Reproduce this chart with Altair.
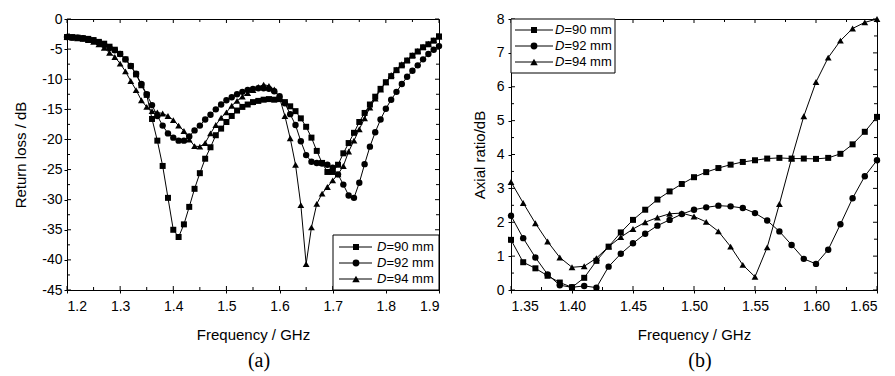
import altair as alt
import pandas as pd

# ---------------- data ----------------
series_labels = ["D=90 mm", "D=92 mm", "D=94 mm"]
series_shapes = ["square", "circle", "triangle-up"]
series_sizes = [36, 46, 56]

freq_a = [round(1.20 + 0.01 * i, 2) for i in range(71)]
rl_90 = [-3.0, -3.0, -3.1, -3.2, -3.3, -3.5, -3.8, -4.1, -4.6, -5.1,
         -5.8, -6.7, -7.8, -9.2, -11.0, -12.6, -16.6, -20.2, -24.4, -29.7,
         -35.0, -36.2, -34.1, -31.2, -28.2, -25.6, -23.2, -21.3, -19.3, -18.2,
         -17.1, -16.1, -15.2, -14.6, -14.2, -13.8, -13.6, -13.4, -13.3, -13.4,
         -13.3, -13.8, -14.5, -15.3, -16.5, -17.9, -19.7, -21.9, -23.9, -25.4,
         -25.4, -24.2, -22.3, -20.6, -18.9, -17.1, -15.6, -14.2, -12.9, -11.6,
         -10.5, -9.5, -8.5, -7.7, -6.9, -6.1, -5.4, -4.7, -4.2, -3.6, -2.9]
rl_92 = [-3.0, -3.1, -3.1, -3.2, -3.4, -3.6, -3.9, -4.3, -4.8, -5.2,
         -5.8, -6.7, -7.8, -9.1, -10.8, -12.5, -14.3, -16.1, -17.7, -19.0,
         -19.7, -20.2, -20.2, -19.5, -18.5, -17.7, -16.7, -15.9, -15.0, -14.2,
         -13.5, -13.0, -12.5, -12.1, -11.8, -11.6, -11.5, -11.5, -11.6, -12.0,
         -12.8, -14.0, -15.8, -17.6, -20.3, -22.6, -23.7, -23.9, -24.0, -24.2,
         -24.7, -25.8, -27.5, -29.3, -29.7, -27.2, -24.1, -21.2, -18.8, -16.7,
         -14.9, -13.4, -12.1, -10.8, -9.6, -8.6, -7.7, -6.7, -5.8, -5.1, -4.5]
rl_94 = [-3.0, -3.1, -3.2, -3.3, -3.5, -3.8, -4.2, -4.8, -5.6, -6.3,
         -7.4, -8.7, -10.3, -11.8, -13.5, -14.6, -15.3, -15.5, -15.7, -16.1,
         -16.8, -17.7, -18.6, -20.0, -21.1, -21.2, -20.6, -19.0, -17.6, -16.4,
         -15.5, -14.4, -13.6, -12.9, -12.3, -11.8, -11.3, -10.9, -11.1, -11.7,
         -13.1, -16.1, -19.8, -24.2, -30.9, -40.7, -34.6, -30.7, -29.0, -27.9,
         -26.8, -25.8, -24.4, -22.0, -20.2, -18.3, -16.5, -14.7, -13.2, -11.7,
         -10.5, -9.3, -8.4, -7.5, -6.8, -6.0, -5.3, -4.6, -4.1, -3.5, -2.9]

freq_b = [round(1.35 + 0.01 * i, 2) for i in range(31)]
ar_90 = [1.48, 0.82, 0.64, 0.42, 0.22, 0.08, 0.36, 0.86, 1.28, 1.70,
         2.07, 2.37, 2.67, 2.91, 3.13, 3.33, 3.48, 3.60, 3.70, 3.78,
         3.83, 3.88, 3.90, 3.88, 3.88, 3.87, 3.90, 4.02, 4.30, 4.67, 5.11]
ar_92 = [2.19, 1.53, 0.96, 0.46, 0.14, 0.08, 0.12, 0.07, 0.69, 1.07,
         1.38, 1.66, 1.90, 2.07, 2.24, 2.37, 2.44, 2.49, 2.47, 2.42,
         2.27, 2.05, 1.73, 1.33, 0.92, 0.77, 1.19, 1.94, 2.71, 3.36, 3.83]
ar_94 = [3.19, 2.57, 1.97, 1.43, 0.96, 0.67, 0.70, 0.94, 1.28, 1.56,
         1.80, 2.00, 2.14, 2.25, 2.27, 2.17, 2.01, 1.73, 1.28, 0.74,
         0.39, 1.26, 2.54, 3.88, 5.13, 6.14, 6.86, 7.36, 7.72, 7.90, 8.0]

xa_major = [1.2, 1.3, 1.4, 1.5, 1.6, 1.7, 1.8, 1.9]
xa_minor = [1.25, 1.35, 1.45, 1.55, 1.65, 1.75, 1.85]
ya_major = [-45, -40, -35, -30, -25, -20, -15, -10, -5, 0]
ya_minor = [-42.5, -37.5, -32.5, -27.5, -22.5, -17.5, -12.5, -7.5, -2.5]
xb_major = [1.35, 1.40, 1.45, 1.50, 1.55, 1.60, 1.65]
xb_minor = [1.375, 1.425, 1.475, 1.525, 1.575, 1.625]
yb_major = [0, 1, 2, 3, 4, 5, 6, 7, 8]
yb_minor = [0.5, 1.5, 2.5, 3.5, 4.5, 5.5, 6.5, 7.5]

FONT = "Liberation Sans"


def long_df(freq, series):
    rows = []
    for lab, vals in zip(series_labels, series):
        for f, v in zip(freq, vals):
            rows.append({"f": f, "v": v, "s": lab})
    return pd.DataFrame(rows)


def panel(df, W, H, xdom, ydom, xmaj, xmin, ymaj, ymin, xfmt, xtitle, ytitle,
          ytitle_pad, ylabel_pad, caption, leg):
    xs = alt.Scale(domain=xdom, nice=False, zero=False)
    ys = alt.Scale(domain=ydom, nice=False, zero=False)
    xaxis = alt.Axis(values=xmaj, format=xfmt, title=xtitle, titlePadding=14,
                     labelPadding=6)
    yaxis = alt.Axis(values=ymaj, labelExpr="'' + datum.value", title=ytitle,
                     titlePadding=ytitle_pad, labelPadding=ylabel_pad)
    X = lambda: alt.X("f:Q", scale=xs, axis=xaxis)
    Y = lambda: alt.Y("v:Q", scale=ys, axis=yaxis)
    base = alt.Chart(df)
    line = base.mark_line(color="black", strokeWidth=1).encode(
        x=X(), y=Y(), detail="s:N",
    )
    pts = base.mark_point(filled=True, color="black", opacity=1).encode(
        x=X(), y=Y(),
        shape=alt.Shape("s:N", scale=alt.Scale(domain=series_labels, range=series_shapes), legend=None),
        size=alt.Size("s:N", scale=alt.Scale(domain=series_labels, range=series_sizes), legend=None),
    )
    layers = [line, pts]
    # inward ticks on all four sides
    for vals, L in ((xmaj, 4), (xmin, 3)):
        d = pd.DataFrame({"f": vals})
        layers.append(alt.Chart(d).mark_rule(color="black", strokeWidth=1).encode(
            x=X(), y=alt.value(H), y2=alt.value(H - L)))
        layers.append(alt.Chart(d).mark_rule(color="black", strokeWidth=1).encode(
            x=X(), y=alt.value(0), y2=alt.value(L)))
    for vals, L in ((ymaj, 4), (ymin, 3)):
        d = pd.DataFrame({"v": vals})
        layers.append(alt.Chart(d).mark_rule(color="black", strokeWidth=1).encode(
            y=Y(), x=alt.value(0), x2=alt.value(L)))
        layers.append(alt.Chart(d).mark_rule(color="black", strokeWidth=1).encode(
            y=Y(), x=alt.value(W), x2=alt.value(W - L)))
    # legend box drawn with marks
    one = pd.DataFrame({"k": [0]})
    layers.append(alt.Chart(one).mark_rect(fill="white", stroke="black", strokeWidth=1).encode(
        x=alt.value(leg["x0"]), x2=alt.value(leg["x1"]),
        y=alt.value(leg["y0"]), y2=alt.value(leg["y1"])))
    for i, lab in enumerate(series_labels):
        ry = leg["rows"][i]
        d = pd.DataFrame({"pre": [lab[0]], "post": [lab[1:]]})
        layers.append(alt.Chart(d).mark_rule(color="black", strokeWidth=1).encode(
            x=alt.value(leg["lx0"]), x2=alt.value(leg["lx1"]), y=alt.value(ry)))
        layers.append(alt.Chart(d).mark_point(filled=True, color="black", opacity=1,
                                              shape=series_shapes[i], size=series_sizes[i]).encode(
            x=alt.value(leg["mx"]), y=alt.value(ry)))
        layers.append(alt.Chart(d).mark_text(align="left", baseline="middle", font=FONT,
                                             fontSize=leg["fs"], fontStyle="italic",
                                             color="black", clip=True).encode(
            x=alt.value(leg["tx"]), y=alt.value(ry), text="pre:N"))
        layers.append(alt.Chart(d).mark_text(align="left", baseline="middle", font=FONT,
                                             fontSize=leg["fs"], color="black", clip=True).encode(
            x=alt.value(leg["tx"] + 0.722 * leg["fs"]), y=alt.value(ry), text="post:N"))
    return alt.layer(*layers).properties(
        width=W, height=H,
        title=alt.TitleParams(caption, orient="bottom", font="Liberation Serif", fontSize=20,
                              fontWeight="normal", color="black", offset=9, dx=6, anchor="middle"),
    )


WA, HA = 372, 271
WB, HB = 366, 271

pa = panel(long_df(freq_a, [rl_90, rl_92, rl_94]), WA, HA, [1.2, 1.9], [-45, 0],
           xa_major, xa_minor, ya_major, ya_minor, ".1f", "Frequency / GHz",
           "Return loss / dB", 13, 2, "(a)",
           {"x0": 266, "x1": WA, "y0": 216, "y1": HA, "rows": [228, 244, 260],
            "lx0": 272, "lx1": 305, "mx": 289, "tx": 310, "fs": 13})
pb = panel(long_df(freq_b, [ar_90, ar_92, ar_94]), WB, HB, [1.35, 1.65], [0, 8],
           xb_major, xb_minor, yb_major, yb_minor, ".2f", "Frequency / GHz",
           "Axial ratio/dB", 9, 4, "(b)",
           {"x0": 0, "x1": 104, "y0": 0, "y1": 54, "rows": [11, 27, 43],
            "lx0": 4, "lx1": 42, "mx": 23, "tx": 44, "fs": 13})

chart = alt.hconcat(pa, pb, spacing=72, bounds="flush").properties(
    padding={"left": 5, "top": 3, "right": 0, "bottom": 0}
).configure_view(stroke="black", strokeWidth=1).configure_axis(
    labelFont=FONT, labelFontSize=14, labelColor="black",
    titleFont=FONT, titleFontSize=15, titleFontWeight="normal", titleColor="black",
    domainColor="black", tickColor="black", tickSize=3, grid=False,
)

chart.save("out.html", embed_options={"renderer": "svg", "actions": False})
